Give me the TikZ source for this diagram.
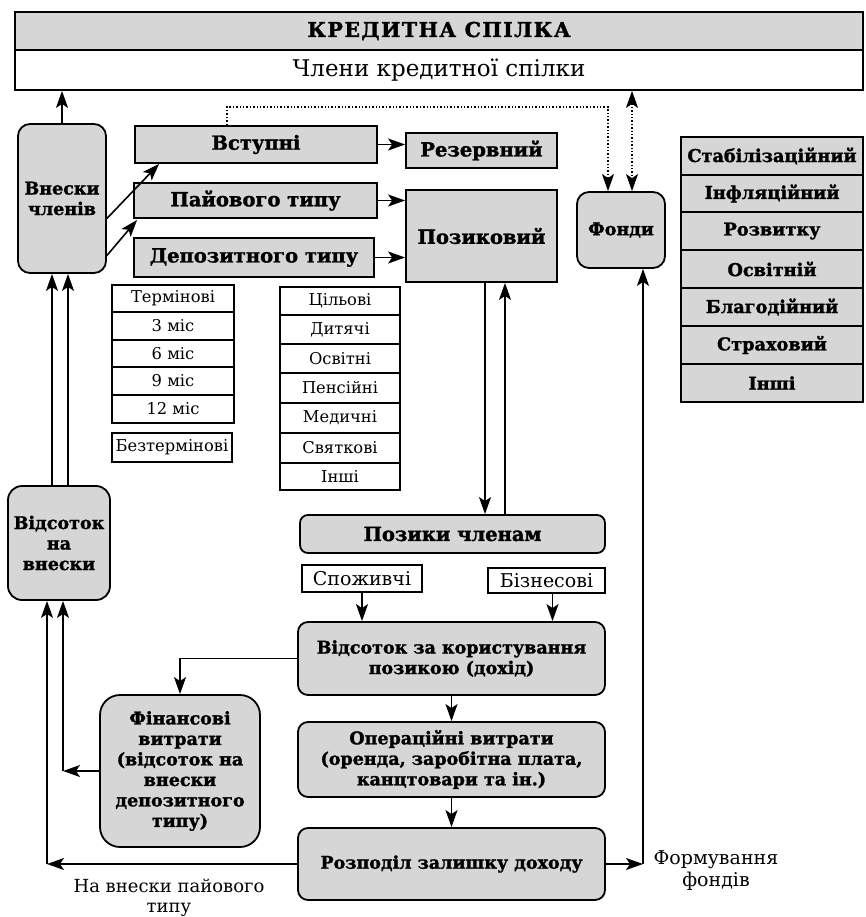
\documentclass[tikz,border=0pt]{standalone}
\usepackage{fontspec}
\setmainfont[BoldFeatures={FakeBold=1.5}]{DejaVu Serif}
\usetikzlibrary{arrows.meta}
\tikzset{
  boxframe/.style={draw, line width=1.8pt, inner sep=0pt, align=center},
  grey/.style={boxframe, fill=black!16},
  white/.style={boxframe, fill=white},
  lbl/.style={font=\fontsize{19.5}{22}\selectfont\bfseries},
  bld/.style={font=\fontsize{17.5}{20.5}\selectfont\bfseries},
  lst/.style={font=\fontsize{17.7}{20}\selectfont\bfseries},
  reg/.style={font=\fontsize{16.3}{19}\selectfont},
  regb/.style={font=\fontsize{19}{22}\selectfont},
  tip/.style={Stealth[length=17pt,width=12pt,inset=4pt]},
  arr/.style={line width=1.6pt, -{Stealth[length=17pt,width=12pt,inset=4pt]}},
  dblarr/.style={line width=1.4pt, dotted, {Stealth[length=17pt,width=12pt,inset=4pt]}-{Stealth[length=17pt,width=12pt,inset=4pt]}},
  dotarr/.style={line width=1.4pt, dotted, -{Stealth[length=17pt,width=12pt,inset=4pt]}},
}
\newcommand\mybox[7][]{\node[#1, minimum width={#5-#3}, minimum height={#6-#4}] (#2) at ({(#3+#5)/2},{(#4+#6)/2}) {#7};}
\begin{document}
\begin{tikzpicture}[x=1pt,y=-1pt]
\useasboundingbox (0,0) rectangle (865,917);
% header
\mybox[grey]{hdr1}{15}{12}{863}{50}{\fontsize{20.5}{22}\selectfont\bfseries\addfontfeature{LetterSpace=7}КРЕДИТНА СПІЛКА}
\mybox[white, font=\fontsize{23}{26}\selectfont]{hdr2}{15}{50}{863}{90}{Члени кредитної спілки}
% left column
\mybox[grey, bld, rounded corners=12pt]{vch}{18}{124}{106}{273}{Внески\\членів}
\mybox[grey, bld, rounded corners=14pt]{vsn}{8}{486}{110}{600}{Відсоток\\на\\внески}
% contribution boxes
\mybox[grey, lbl]{vst}{135}{126}{377}{163}{Вступні}
\mybox[grey, lbl]{pay}{134}{183}{377}{218}{Пайового типу}
\mybox[grey, lbl]{dep}{134}{238}{374}{277}{Депозитного типу}
\mybox[grey, lbl]{rez}{406}{133}{557}{168}{Резервний}
\mybox[grey, lbl]{poz}{406}{190}{557}{282}{Позиковий}
\mybox[grey, bld, rounded corners=12pt]{fon}{577}{192}{665}{268}{Фонди}
% term list
\mybox[white, reg]{t1}{112}{285}{234}{312}{Термінові}
\mybox[white, reg]{t2}{112}{312}{234}{340}{3 міс}
\mybox[white, reg]{t3}{112}{340}{234}{367}{6 міс}
\mybox[white, reg]{t4}{112}{367}{234}{395}{9 міс}
\mybox[white, reg]{t5}{112}{395}{234}{423}{12 міс}
\mybox[white, reg]{t6}{112}{433}{232}{462}{Безтермінові}
% purpose list
\mybox[white, reg]{p1}{280}{287}{400}{315}{Цільові}
\mybox[white, reg]{p2}{280}{315}{400}{344}{Дитячі}
\mybox[white, reg]{p3}{280}{344}{400}{373}{Освітні}
\mybox[white, reg]{p4}{280}{373}{400}{403}{Пенсійні}
\mybox[white, reg]{p5}{280}{403}{400}{433}{Медичні}
\mybox[white, reg]{p6}{280}{433}{400}{463}{Святкові}
\mybox[white, reg]{p7}{280}{463}{400}{490}{Інші}
% funds list
\mybox[grey, lst]{f1}{681}{137}{863}{175}{Стабілізаційний}
\mybox[grey, lst]{f2}{681}{175}{863}{212}{Інфляційний}
\mybox[grey, lst]{f3}{681}{212}{863}{250}{Розвитку}
\mybox[grey, lst]{f4}{681}{250}{863}{288}{Освітній}
\mybox[grey, lst]{f5}{681}{288}{863}{326}{Благодійний}
\mybox[grey, lst]{f6}{681}{326}{863}{364}{Страховий}
\mybox[grey, lst]{f7}{681}{364}{863}{402}{Інші}
% loans
\mybox[grey, lbl, rounded corners=8pt]{pch}{300}{515}{605}{553}{Позики членам}
\mybox[white, regb]{spo}{302}{565}{422}{592}{Споживчі}
\mybox[white, regb]{biz}{488}{568}{605}{593}{Бізнесові}
\mybox[grey, bld, rounded corners=10pt]{vz}{298}{622}{605}{695}{Відсоток за користування\\позикою (дохід)}
\mybox[grey, bld, rounded corners=10pt]{op}{298}{722}{605}{797}{Операційні витрати\\(оренда, заробітна плата,\\канцтовари та ін.)}
\mybox[grey, bld, rounded corners=10pt]{roz}{298}{828}{605}{900}{Розподіл залишку доходу}
\mybox[grey, bld, rounded corners=20pt]{fin}{100}{695}{260}{847}{Фінансові\\витрати\\(відсоток на\\внески\\депозитного\\типу)}
% labels
\node[font=\fontsize{18}{20}\selectfont, align=center] (lab1) at (169,898) {На внески пайового\\типу};
\node[regb, align=center] (lab2) at (716,871) {Формування\\фондів};
% coordinates
\coordinate (c1) at (63,771);
\coordinate (c2) at (47,864);
\coordinate (fc) at (643,864);
% connectors
\draw[arr] (vch.north) -- (vch.north |- hdr2.south);
\draw[arr] ([yshift=-20pt]vch.east) -- ([xshift=25pt]vst.south west);
\draw[arr] ([yshift=-57pt]vch.east) -- ([xshift=4pt,yshift=-1pt]pay.south west);
\draw[arr] (vst.east) -- (vst.east -| rez.west);
\draw[arr] (pay.east) -- (pay.east -| poz.west);
\draw[arr] (dep.east) -- (dep.east -| poz.west);
\draw[dotarr] ([xshift=-29pt]vst.north) -- ++(0,-18) -| ([xshift=-13pt]fon.north);
\draw[dblarr] ([xshift=11pt]fon.north |- hdr2.south) -- ([xshift=11pt]fon.north);
\draw[arr] (fc) -- (fc |- fon.south);
\draw[arr] (roz.east) -- (fc);
\draw[arr] ([xshift=3.5pt]poz.south) -- ([xshift=3.5pt]poz.south |- pch.north);
\draw[arr] ([xshift=23.5pt]poz.south |- pch.north) -- ([xshift=23.5pt]poz.south);
\draw[arr] (spo.south) -- (spo.south |- vz.north);
\draw[arr] ([xshift=6pt]biz.south) -- ([xshift=6pt]biz.south |- vz.north);
\draw[arr] (vz.south) -- (op.north);
\draw[arr] (op.south) -- (roz.north);
\draw[arr] (vz.west) -| (fin.north);
\draw[arr] (fin.west) -- (c1);
\draw[arr] (c1) -- (c1 |- vsn.south);
\draw[arr] (roz.west) -- (c2);
\draw[arr] (c2) -- (c2 |- vsn.south);
\draw[arr] ([xshift=-7pt]vsn.north) -- ([xshift=-7pt]vsn.north |- vch.south);
\draw[arr] ([xshift=9pt]vsn.north) -- ([xshift=9pt]vsn.north |- vch.south);
\end{tikzpicture}
\end{document}
